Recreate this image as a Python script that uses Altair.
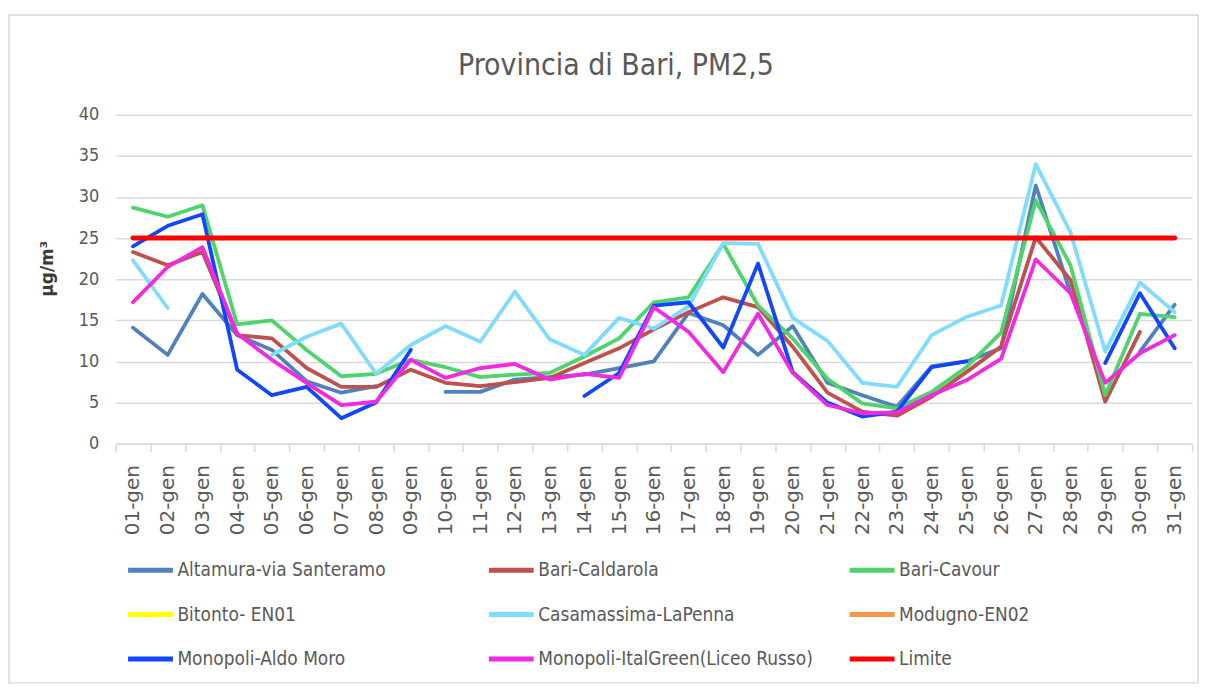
import altair as alt
import pandas as pd
import numpy as np

days = ["01-gen", "02-gen", "03-gen", "04-gen", "05-gen", "06-gen", "07-gen", "08-gen",
        "09-gen", "10-gen", "11-gen", "12-gen", "13-gen", "14-gen", "15-gen", "16-gen",
        "17-gen", "18-gen", "19-gen", "20-gen", "21-gen", "22-gen", "23-gen", "24-gen",
        "25-gen", "26-gen", "27-gen", "28-gen", "29-gen", "30-gen", "31-gen"]

N = None
altamura = [14.1, 10.8, 18.2, 13.2, 11.4, 7.6, 6.2, 7.0, N, 6.3, 6.3, 7.8, 8.1, 8.4, 9.2, 10.0,
            15.9, 14.4, 10.8, 14.3, 7.4, 5.9, 4.5, 9.4, 10.0, 11.6, 31.4, 18.3, N, 11.2, 16.9]
caldarola = [23.3, 21.7, 23.3, 13.2, 12.8, 9.2, 6.9, 6.9, 9.0, 7.4, 7.0, 7.5, 8.0, 9.8, 11.6, 13.9,
             16.0, 17.8, 16.6, 11.8, 6.2, 3.9, 3.4, 5.7, 8.7, 11.8, 25.1, 19.9, 5.1, 13.6, N]
cavour = [28.7, 27.6, 29.0, 14.5, 15.0, 11.4, 8.2, 8.5, 10.2, 9.3, 8.1, 8.4, 8.6, 10.6, 12.8, 17.2,
          17.8, 24.3, 16.8, 12.8, 7.9, 4.9, 4.3, 6.3, 9.3, 13.5, 29.6, 21.7, 5.9, 15.8, 15.4]
bitonto = [N] * 31
casamassima = [22.3, 16.5, N, N, 10.8, 13.0, 14.6, 8.5, 12.0, 14.3, 12.4, 18.5, 12.7, 10.8, 15.3, 14.0,
               16.7, 24.4, 24.3, 15.3, 12.5, 7.4, 6.9, 13.2, 15.4, 16.8, 34.0, 25.7, 11.2, 19.6, 16.0]
modugno = [N] * 31
aldo_moro = [24.0, 26.5, 27.9, 9.0, 5.9, 6.9, 3.1, 5.0, 11.4, N, N, N, N, 5.8, 8.6, 16.8,
             17.2, 11.7, 21.9, 8.7, 5.0, 3.3, 3.9, 9.3, 10.0, N, N, N, 9.8, 18.3, 11.6]
italgreen = [17.2, 21.5, 23.9, 13.4, 10.2, 7.4, 4.7, 5.1, 10.2, 8.0, 9.2, 9.7, 7.8, 8.5, 8.0, 16.6,
             13.6, 8.7, 15.8, 8.6, 4.7, 3.7, 3.8, 5.9, 7.7, 10.3, 22.4, 18.3, 7.4, 11.0, 13.2]
limite = [25] * 31

names = ["Altamura-via Santeramo", "Bari-Caldarola", "Bari-Cavour",
         "Bitonto- EN01", "Casamassima-LaPenna", "Modugno-EN02",
         "Monopoli-Aldo Moro", "Monopoli-ItalGreen(Liceo Russo)", "Limite"]
colors = ["#4f81bd", "#c0504d", "#4fd46b",
          "#ffff00", "#7fdbff", "#f79646",
          "#1046ff", "#ef2ae0", "#ff0000"]

series = [altamura, caldarola, cavour, bitonto, casamassima, modugno, aldo_moro, italgreen]

rows = []
for name, vals in zip(names[:-1], series):
    for d, v in zip(days, vals):
        rows.append({"Giorno": d, "Valore": (np.nan if v is None else v), "Stazione": name})
df_st = pd.DataFrame(rows)
df_lim = pd.DataFrame({"Giorno": days, "Valore": limite, "Stazione": "Limite"})

NARROW = "'DejaVu Sans Condensed', 'Liberation Sans Narrow', sans-serif"
GRAY = "#595959"
GRID = "#d9d9d9"

x_enc = alt.X("Giorno:N", sort=days, bandPosition=0.5,
              scale=alt.Scale(type="band", domain=days, paddingInner=0, paddingOuter=0),
              axis=alt.Axis(title=None, labelAngle=270, labelFont="DejaVu Sans", labelFontSize=20,
                            labelColor=GRAY, labelPadding=13, tickBand="extent", tickSize=8,
                            tickColor=GRID, tickWidth=1.5, domainColor=GRID, domainWidth=1.5,
                            grid=False))
y_enc = alt.Y("Valore:Q", scale=alt.Scale(domain=[0, 40], nice=False, zero=True),
              axis=alt.Axis(title="µg/m³", values=[0, 5, 10, 15, 20, 25, 30, 35, 40],
                            labelFont=NARROW, labelFontSize=18, labelColor=GRAY, labelPadding=17,
                            ticks=False, domain=False, grid=True, gridColor=GRID, gridWidth=1.5,
                            titleFont="DejaVu Sans", titleFontSize=17, titleFontWeight="bold",
                            titleColor="#3a3a3a", titleAngle=270, titleX=-68, titleY=154,
                            titleAlign="center", titleBaseline="middle"))
color_enc = alt.Color("Stazione:N", scale=alt.Scale(domain=names, range=colors),
                      legend=alt.Legend(title=None, orient="none", legendX=10, legendY=432,
                                        direction="horizontal", columns=3, gridAlign="all",
                                        columnPadding=26, rowPadding=9.5,
                                        symbolType="stroke", symbolSize=2025, symbolStrokeWidth=5,
                                        labelFont=NARROW, labelFontSize=19, labelColor=GRAY,
                                        labelOffset=2, labelLimit=400))

frame = alt.Chart(alt.Data(values=[{"k": 1}])).mark_rect(
    fillOpacity=0, stroke=GRID, strokeWidth=1.5
).encode(x=alt.value(-107), x2=alt.value(1086), y=alt.value(-100), y2=alt.value(570))

stations = alt.Chart(df_st).mark_line(
    strokeWidth=3.8, strokeJoin="round", strokeCap="round", invalid="break-paths-show-domains"
).encode(x=x_enc, y=y_enc, color=color_enc)

lim = alt.Chart(df_lim).mark_line(strokeWidth=5, strokeCap="round").encode(
    x=x_enc, y=y_enc, color=color_enc)

chart = alt.layer(frame, stations, lim).properties(
    width=1080, height=330,
    title=alt.TitleParams("Provincia di Bari, PM2,5", font=NARROW, fontSize=30, fontWeight="normal",
                          color=GRAY, anchor="middle", frame="group", offset=0,
                          baseline="alphabetic", dx=-38, dy=91),
    autosize=alt.AutoSizeParams(type="none"),
    padding={"left": 108, "top": 106, "right": 8, "bottom": 242},
).configure_view(stroke="transparent")

chart.save("out.html", embed_options={"renderer": "svg", "actions": False})
